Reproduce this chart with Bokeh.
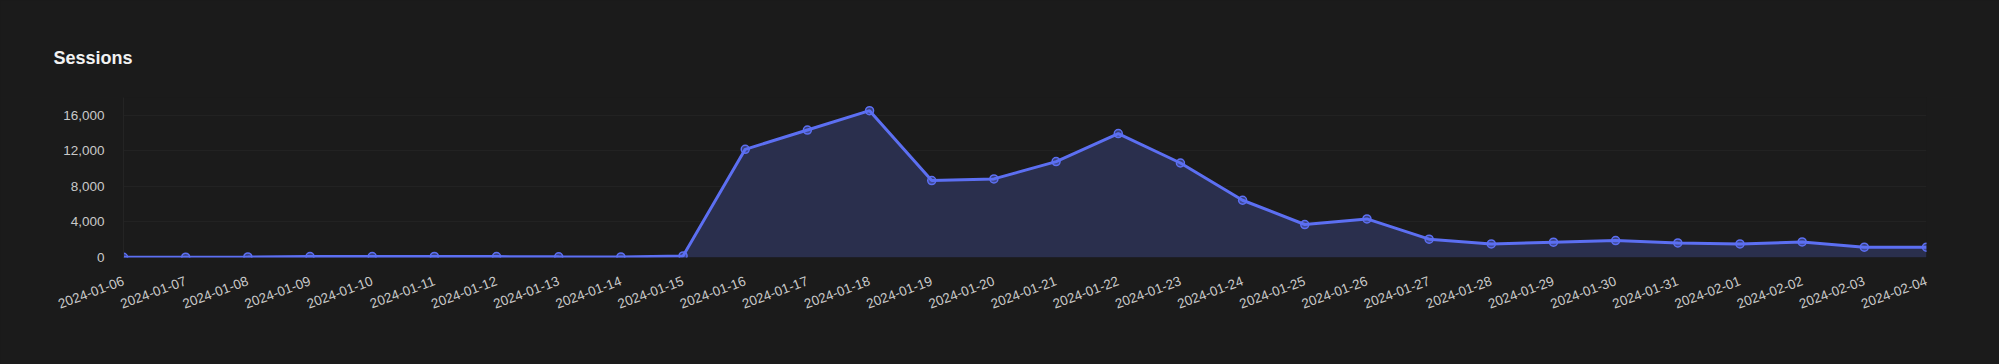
import math
from bokeh.plotting import figure
from bokeh.models import Range1d, FixedTicker, NumeralTickFormatter, ColumnDataSource
from bokeh.embed import file_html
from bokeh.resources import INLINE

dates = ["2024-01-06", "2024-01-07", "2024-01-08", "2024-01-09", "2024-01-10",
         "2024-01-11", "2024-01-12", "2024-01-13", "2024-01-14", "2024-01-15",
         "2024-01-16", "2024-01-17", "2024-01-18", "2024-01-19", "2024-01-20",
         "2024-01-21", "2024-01-22", "2024-01-23", "2024-01-24", "2024-01-25",
         "2024-01-26", "2024-01-27", "2024-01-28", "2024-01-29", "2024-01-30",
         "2024-01-31", "2024-02-01", "2024-02-02", "2024-02-03", "2024-02-04"]
sessions = [20, 30, 60, 110, 100, 120, 100, 80, 70, 180,
            12170, 14340, 16520, 8660, 8840, 10790, 13940, 10630, 6440, 3710,
            4340, 2060, 1530, 1720, 1910, 1640, 1530, 1750, 1160, 1160]
y_ticks = [0, 4000, 8000, 12000, 16000]

idx = list(range(len(dates)))
src = ColumnDataSource(dict(x=idx, y=sessions, base=[0] * len(idx)))

BG = "#1b1b1b"
LINE = "#5c6ff2"

p = figure(width=1999, height=364, output_backend="svg", toolbar_location=None,
           x_range=Range1d(0, len(dates) - 1), y_range=Range1d(0, 18000),
           background_fill_color=BG, border_fill_color=BG,
           outline_line_color=None,
           min_border_left=123, min_border_right=73, min_border_top=97,
           min_border_bottom=107,
           styles={"background-color": BG})

p.title.text = "Sessions"
p.title.text_color = "#f2f2f2"
p.title.text_font = "Liberation Sans"
p.title.text_font_style = "bold"
p.title.text_font_size = "18px"
p.title.align = "left"
p.title.offset = -70
p.title.standoff = 60

p.varea(x="x", y1="base", y2="y", source=src, fill_color="#2a2f4d", fill_alpha=1.0)
p.line(x="x", y="y", source=src, line_color=LINE, line_width=3)
p.scatter(x="x", y="y", source=src, size=8, marker="circle",
          fill_color=LINE, fill_alpha=0.45, line_color=LINE, line_width=1.5)

p.xaxis.ticker = FixedTicker(ticks=idx)
p.xaxis.major_label_overrides = {i: d for i, d in enumerate(dates)}
p.xaxis.major_label_orientation = 0.355
p.xaxis.axis_line_color = None
p.xaxis.major_tick_line_color = None
p.xaxis.minor_tick_line_color = None
p.xaxis.major_label_standoff = 17

p.yaxis.ticker = FixedTicker(ticks=y_ticks)
p.yaxis.formatter = NumeralTickFormatter(format="0,0")
p.yaxis.axis_line_color = "#242424"
p.yaxis.major_tick_line_color = None
p.yaxis.minor_tick_line_color = None
p.yaxis.major_label_standoff = 13

for ax in (p.xaxis, p.yaxis):
    ax.major_label_text_color = "#c9c9c9"
    ax.major_label_text_font = "Liberation Sans"
    ax.major_label_text_font_size = "13.5px"

p.xgrid.grid_line_color = None
p.ygrid.grid_line_color = "#222222"
p.ygrid.grid_line_width = 1

open("out.html", "w").write(file_html(p, INLINE))
